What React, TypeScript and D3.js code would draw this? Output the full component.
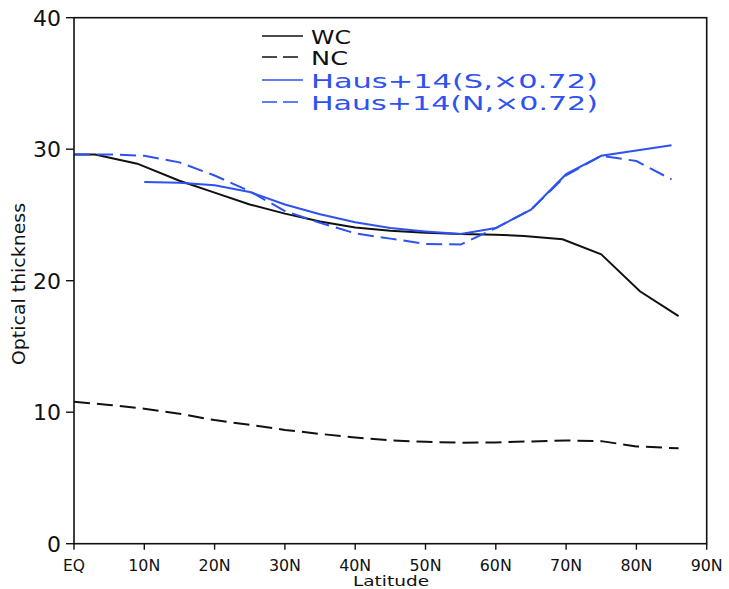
import React from "react";
import * as d3 from "d3";

const wcLat = [0, 3, 9, 15, 20, 25, 30, 35, 40, 45, 50, 55, 60, 64, 69.5, 75, 80.5, 86];
const wcVal = [29.6, 29.6, 28.9, 27.6, 26.7, 25.8, 25.1, 24.5, 24.05, 23.8, 23.65, 23.55, 23.5, 23.4, 23.15, 22.0, 19.2, 17.3];

const ncLat = [0, 5, 10, 15, 20, 25, 30, 35, 40, 45, 50, 55, 60, 65, 70, 75, 80, 86];
const ncVal = [10.8, 10.55, 10.27, 9.88, 9.4, 9.04, 8.65, 8.35, 8.08, 7.86, 7.75, 7.68, 7.7, 7.78, 7.85, 7.8, 7.4, 7.25];

const hausSLat = [10, 15, 20, 25, 30, 35, 40, 45, 50, 55, 60, 65, 70, 75, 80, 85];
const hausSVal = [27.5, 27.45, 27.25, 26.75, 25.8, 25.05, 24.45, 24.0, 23.75, 23.55, 24.0, 25.4, 28.1, 29.5, 29.9, 30.3];

const hausNLat = [0, 5, 10, 15, 20, 25, 30, 35, 40, 45, 50, 55, 60, 65, 70, 75, 80, 85];
const hausNVal = [29.6, 29.6, 29.5, 29.0, 28.0, 26.8, 25.3, 24.4, 23.6, 23.2, 22.8, 22.75, 24.0, 25.4, 28.0, 29.5, 29.1, 27.7];

const xTicks = [0, 10, 20, 30, 40, 50, 60, 70, 80, 90];
const xTickLabels = ["EQ", "10N", "20N", "30N", "40N", "50N", "60N", "70N", "80N", "90N"];
const yTicks = [0, 10, 20, 30, 40];

const legendLabels = ["WC", "NC", "Haus+14(S,\u00d70.72)", "Haus+14(N,\u00d70.72)"];

const W = 729;
const H = 589;
const L = 74, R = 706.7, T = 17.7, B = 543.7;
const BLUE = "#2d52f0";
const FONT = "'DejaVu Sans', sans-serif";

export default function App() {
  const x = d3.scaleLinear().domain([0, 90]).range([L, R]);
  const y = d3.scaleLinear().domain([0, 40]).range([B, T]);
  const mk = (lats: number[], vals: number[]) =>
    d3.line<number>().x((_, i) => x(lats[i])).y((v) => y(v))(vals) || "";

  const series = [
    { d: mk(wcLat, wcVal), color: "#111", dash: undefined },
    { d: mk(ncLat, ncVal), color: "#111", dash: "16,7" },
    { d: mk(hausSLat, hausSVal), color: BLUE, dash: undefined },
    { d: mk(hausNLat, hausNVal), color: BLUE, dash: "16,7" },
  ];

  const legendY = [36, 57, 80, 102];
  const legendColors = ["#111", "#111", BLUE, BLUE];
  const legendDash = [undefined, "15,6", undefined, "15,6"];
  const legendWidths = [40, 37, 287, 287];

  return (
    <svg width={W} height={H} style={{ position: "absolute", left: 0, top: 0, background: "#fff" }}>
      <rect x={0} y={0} width={W} height={H} fill="#fff" />
      {series.map((s, i) => (
        <path key={i} d={s.d} fill="none" stroke={s.color} strokeWidth={2} strokeDasharray={s.dash} />
      ))}
      <rect x={L} y={T} width={R - L} height={B - T} fill="none" stroke="#111" strokeWidth={1.6} />
      {yTicks.map((t) => (
        <g key={t}>
          <line x1={L - 8} x2={L} y1={y(t)} y2={y(t)} stroke="#111" strokeWidth={1.4} />
          <text x={L - 13} y={y(t) + 8} textAnchor="end" fontFamily={FONT} fontSize={22} fill="#111">
            {t}
          </text>
        </g>
      ))}
      {xTicks.map((t, i) => (
        <g key={t}>
          <line x1={x(t)} x2={x(t)} y1={B} y2={B + 6} stroke="#111" strokeWidth={1.4} />
          <text
            x={x(t)}
            y={B + 27}
            textAnchor="middle"
            fontFamily={FONT}
            fontSize={16}
            fill="#111"
            textLength={i === 0 ? 22 : 32}
            lengthAdjust="spacingAndGlyphs"
          >
            {xTickLabels[i]}
          </text>
        </g>
      ))}
      <text x={391} y={586} textAnchor="middle" fontFamily={FONT} fontSize={14} fill="#111" textLength={76} lengthAdjust="spacingAndGlyphs">
        Latitude
      </text>
      <text
        transform={`translate(25, 284) rotate(-90)`}
        textAnchor="middle"
        fontFamily={FONT}
        fontSize={17}
        fill="#111"
        textLength={162}
        lengthAdjust="spacingAndGlyphs"
      >
        Optical thickness
      </text>
      {legendLabels.map((lab, i) => (
        <g key={lab}>
          <line x1={262} x2={303} y1={legendY[i]} y2={legendY[i]} stroke={legendColors[i]} strokeWidth={1.6} strokeDasharray={legendDash[i]} />
          <text
            x={311}
            y={legendY[i] + 8}
            fontFamily={FONT}
            fontSize={19}
            fill={legendColors[i]}
            textLength={legendWidths[i]}
            lengthAdjust="spacingAndGlyphs"
          >
            {lab}
          </text>
        </g>
      ))}
    </svg>
  );
}
